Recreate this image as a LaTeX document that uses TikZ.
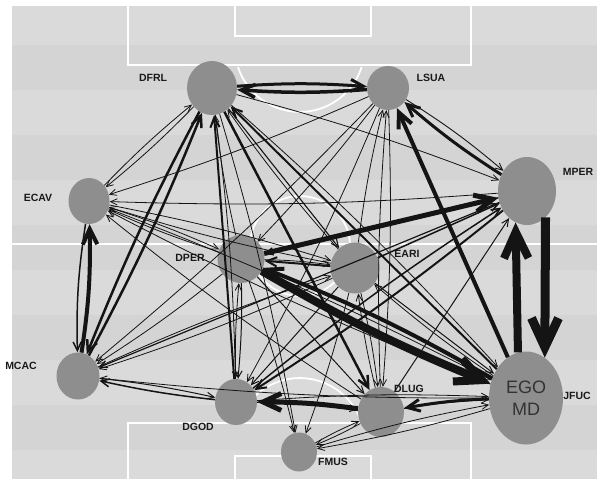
\documentclass[tikz,border=0pt]{standalone}
\usepackage{fontspec}
\setmainfont{Liberation Sans}
\usetikzlibrary{arrows.meta,shapes.geometric,bending}
\definecolor{field}{HTML}{DADADA}
\definecolor{fieldb}{HTML}{D4D4D4}
\definecolor{nodegray}{HTML}{8E8E8E}
\definecolor{edgec}{HTML}{141414}
\begin{document}
\begin{tikzpicture}[x=1pt,y=-1pt,
  pl/.style={ellipse, fill=nodegray, inner sep=0pt},
  lab/.style={font=\fontsize{10.5}{12}\selectfont\bfseries, text=black!90},
  ed/.style={draw=edgec, line width=#1, -{Straight Barb[angle=50:5pt 3]}},
  ed/.default=0.8pt,
  fl/.style={draw=white, line width=1.8pt}]
\useasboundingbox (0,0) rectangle (603,479);
\fill[white] (0,0) rectangle (603,479);
\fill[field] (12,6) rectangle (597,479);
\foreach \y in {45,135,225,315,405}{\fill[fieldb] (12,\y) rectangle (597,\y+45);}
% field lines
\draw[fl] (128,6) -- (128,65) -- (471,65) -- (471,6);
\draw[fl] (235,6) -- (235,36) -- (371,36) -- (371,6);
\draw[fl] (238,67) arc[start angle=162, end angle=18, radius=65];
\draw[fl] (12,244) -- (597,244);
\draw[fl] (300,246) circle[radius=50];
\draw[fl] (128,479) -- (128,423) -- (471,423) -- (471,479);
\draw[fl] (235,479) -- (235,456) -- (371,456) -- (371,479);
\draw[fl] (238,423) arc[start angle=198, end angle=342, radius=65];
% nodes
\node[pl, minimum width=50pt, minimum height=54pt] (A) at (212,88) {};
\node[pl, minimum width=42pt, minimum height=44pt] (B) at (388,88) {};
\node[pl, minimum width=58pt, minimum height=68pt] (C) at (527,191) {};
\node[pl, minimum width=41pt, minimum height=46pt] (D) at (89,201) {};
\node[pl, minimum width=47pt, minimum height=48pt] (E) at (241,259) {};
\node[pl, minimum width=49pt, minimum height=51pt] (F) at (355,268) {};
\node[pl, minimum width=43pt, minimum height=47pt] (G) at (78,376) {};
\node[pl, minimum width=42pt, minimum height=46pt] (H) at (236,402) {};
\node[pl, minimum width=46pt, minimum height=50pt] (I) at (381,412) {};
\node[pl, minimum width=74pt, minimum height=93pt, align=center,
  font=\fontsize{18}{22}\selectfont, text=black!80] (J) at (526,398) {EGO\\MD};
\node[pl, minimum width=36pt, minimum height=39pt] (K) at (299,452) {};
% labels
\node[lab] (lA) at (153,78) {DFRL};
\node[lab] (lB) at (431,78) {LSUA};
\node[lab] (lC) at (578,172) {MPER};
\node[lab] (lD) at (38,198) {ECAV};
\node[lab] (lE) at (190,258) {DPER};
\node[lab] (lF) at (407,254) {EARI};
\node[lab] (lG) at (21,366) {MCAC};
\node[lab] (lH) at (198,427) {DGOD};
\node[lab] (lI) at (409,389) {DLUG};
\node[lab] (lJ) at (577,396) {JFUC};
\node[lab] (lK) at (333,462) {FMUS};
% thin edges
\foreach \s/\t in {A/D,D/A,A/C,A/K,A/H,A/J,B/D,B/E,B/G,B/H,B/I,F/B,I/B,C/D,
  D/E,E/D,D/F,D/J,J/D,I/D,F/D,J/G,F/G,E/G,G/F,H/E,E/K,E/F,F/K,F/I,J/F,I/F,
  H/J,K/I,I/K,J/K,K/J,I/J,E/A,F/A}{
  \draw[ed] (\s) to[bend left=3] (\t);}
\draw[ed=1.1pt] (A) -- (F);
\draw[ed=1.2pt] (C) -- (E);
\draw[ed=1.2pt] (C) -- (G);
\draw[ed=1.5pt] (F) -- (C);
\draw[ed=1pt] (I) -- (C);
\draw[ed=1pt] (G) to[bend left=3] (H);
\draw[ed=1.5pt] (H) to[bend left=3] (G);
\draw[ed=1pt] (E) to[bend left=3] (H);
\draw[ed=1pt] (E) -- (I);
\draw[ed=1pt] (F) -- (H);
\draw[ed=1pt] (F) -- (J);
\draw[ed=1pt] (H) to[bend left=3] (I);
% thick edges
\draw[ed=3pt] (A) to[bend left=4] (B);
\draw[ed=3.5pt] (B) to[bend left=4] (A);
\draw[ed=3pt] (C) to[bend left=4] (B);
\draw[ed=0.9pt] (B) to[bend left=4] (C);
\draw[ed=4pt] (J) -- (B);
\draw[ed=5pt] (E) -- (C);
\draw[ed=9pt] (C.305) -- (J.65);
\draw[ed=8pt] (J.100) -- (C.250);
\draw[ed=8pt] (E) to[bend right=4] (J);
\draw[ed=4pt] (J) to[bend right=4] (E);
\draw[ed=5pt] (I) to[bend right=4] (H);
\draw[ed=3pt] (J) to[bend right=4] (I);
\draw[ed=4pt] (G) to[bend right=5] (D);
\draw[ed=1.5pt] (D) to[bend right=5] (G);
\draw[ed=2.5pt] (G) to[bend right=3] (A);
\draw[ed=2.5pt] (A) to[bend right=3] (G);
\draw[ed=2pt] (H) -- (A);
\draw[ed=2.5pt] (A) -- (I);
\draw[ed=2pt] (J) -- (A);
\draw[ed=2pt] (C) to[bend left=3] (H);
\draw[ed=1.5pt] (H) to[bend left=3] (C);
\draw[ed=2pt] (F) -- (E);
\end{tikzpicture}
\end{document}
